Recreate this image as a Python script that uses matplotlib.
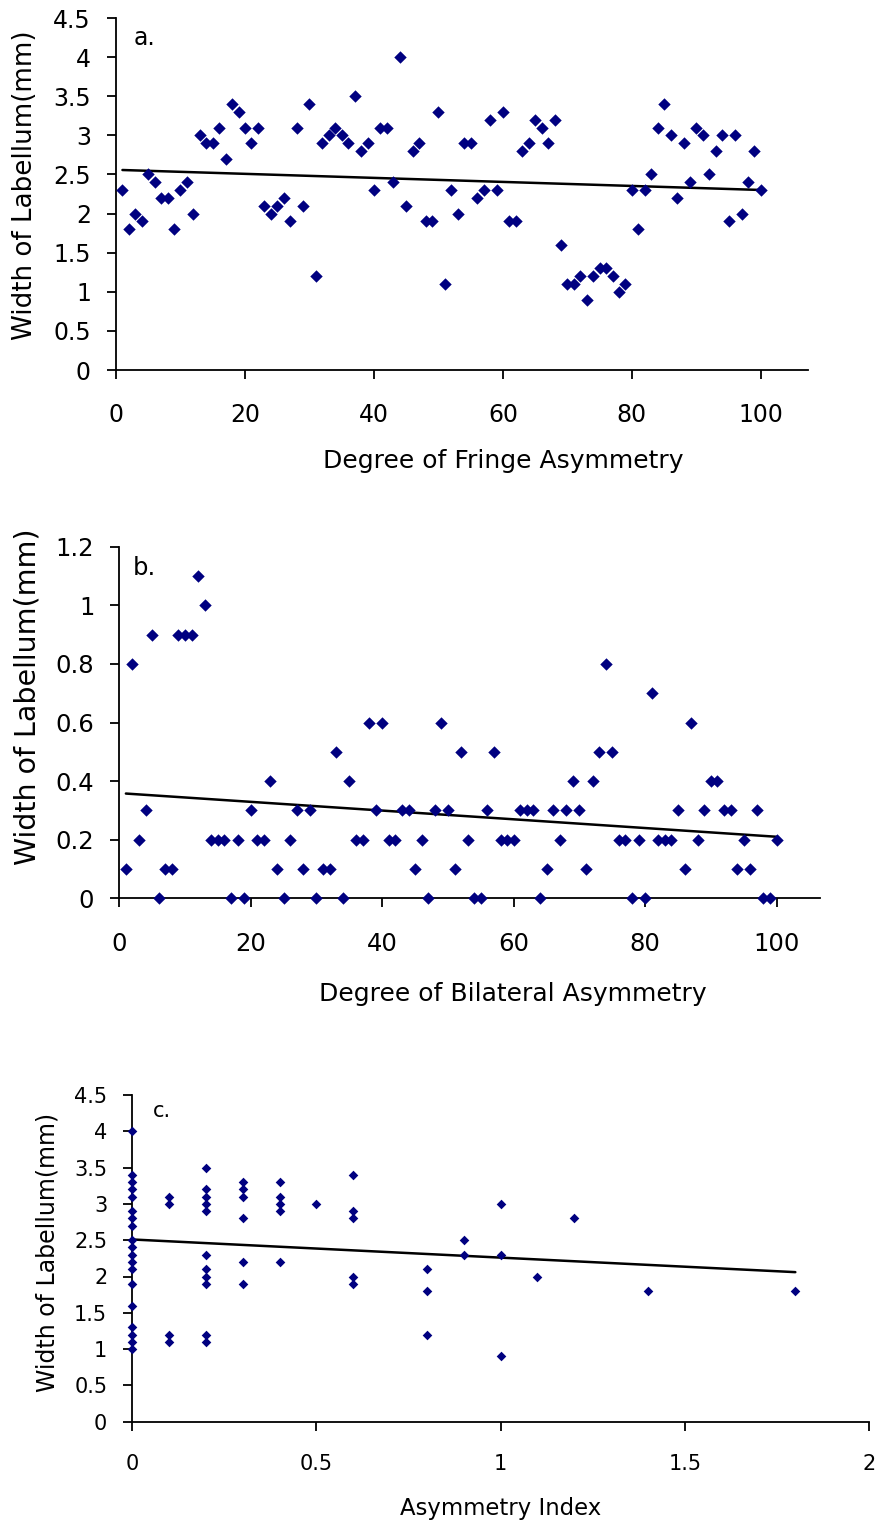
import matplotlib
matplotlib.use('Agg')
import matplotlib.pyplot as plt
import numpy as np

plt.rcParams['font.family'] = ['DejaVu Sans']

# ---------------- data ----------------
fringe_x = list(range(1, 101))
fringe_width = [2.3, 1.8, 2.0, 1.9, 2.5, 2.4, 2.2, 2.2, 1.8, 2.3,
                2.4, 2.0, 3.0, 2.9, 2.9, 3.1, 2.7, 3.4, 3.3, 3.1,
                2.9, 3.1, 2.1, 2.0, 2.1, 2.2, 1.9, 3.1, 2.1, 3.4,
                1.2, 2.9, 3.0, 3.1, 3.0, 2.9, 3.5, 2.8, 2.9, 2.3,
                3.1, 3.1, 2.4, 4.0, 2.1, 2.8, 2.9, 1.9, 1.9, 3.3,
                1.1, 2.3, 2.0, 2.9, 2.9, 2.2, 2.3, 3.2, 2.3, 3.3,
                1.9, 1.9, 2.8, 2.9, 3.2, 3.1, 2.9, 3.2, 1.6, 1.1,
                1.1, 1.2, 0.9, 1.2, 1.3, 1.3, 1.2, 1.0, 1.1, 2.3,
                1.8, 2.3, 2.5, 3.1, 3.4, 3.0, 2.2, 2.9, 2.4, 3.1,
                3.0, 2.5, 2.8, 3.0, 1.9, 3.0, 2.0, 2.4, 2.8, 2.3]

bilateral_x = list(range(1, 101))
bilateral_width = [0.1, 0.8, 0.2, 0.3, 0.9, 0.0, 0.1, 0.1, 0.9, 0.9,
                   0.9, 1.1, 1.0, 0.2, 0.2, 0.2, 0.0, 0.2, 0.0, 0.3,
                   0.2, 0.2, 0.4, 0.1, 0.0, 0.2, 0.3, 0.1, 0.3, 0.0,
                   0.1, 0.1, 0.5, 0.0, 0.4, 0.2, 0.2, 0.6, 0.3, 0.6,
                   0.2, 0.2, 0.3, 0.3, 0.1, 0.2, 0.0, 0.3, 0.6, 0.3,
                   0.1, 0.5, 0.2, 0.0, 0.0, 0.3, 0.5, 0.2, 0.2, 0.2,
                   0.3, 0.3, 0.3, 0.0, 0.1, 0.3, 0.2, 0.3, 0.4, 0.3,
                   0.1, 0.4, 0.5, 0.8, 0.5, 0.2, 0.2, 0.0, 0.2, 0.0,
                   0.7, 0.2, 0.2, 0.2, 0.3, 0.1, 0.6, 0.2, 0.3, 0.4,
                   0.4, 0.3, 0.3, 0.1, 0.2, 0.1, 0.3, 0.0, 0.0, 0.2]

index_x = ([0.0] * 19 + [0.1] * 4 + [0.2] * 11 + [0.3] * 6 + [0.4] * 5
           + [0.5] + [0.6] * 5 + [0.8] * 3 + [0.9] * 2 + [1.0] * 3
           + [1.1, 1.2, 1.4, 1.8])
index_width = ([4.0, 3.4, 3.3, 3.2, 3.1, 2.9, 2.8, 2.7, 2.5, 2.4,
                2.3, 2.2, 2.1, 1.9, 1.6, 1.3, 1.2, 1.1, 1.0]
               + [3.1, 3.0, 1.2, 1.1]
               + [3.5, 3.2, 3.1, 3.0, 2.9, 2.3, 2.1, 2.0, 1.9, 1.2, 1.1]
               + [3.3, 3.2, 3.1, 2.8, 2.2, 1.9]
               + [3.3, 3.1, 3.0, 2.9, 2.2]
               + [3.0]
               + [3.4, 2.9, 2.8, 2.0, 1.9]
               + [2.1, 1.8, 1.2]
               + [2.5, 2.3]
               + [3.0, 2.3, 0.9]
               + [2.0, 2.8, 1.8, 1.8])

# linear trend lines (intercept, slope)
trend_a = (2.560, -0.00258)
trend_b = (0.359, -0.00149)
trend_c = (2.51, -0.25)

ylabel = 'Width of Labellum(mm)'

# ---------------- figure ----------------
W, H = 882, 1522
fig = plt.figure(figsize=(W / 100, H / 100), dpi=100)
NAVY = '#000080'


def make_axes(l, r, t, b):
    return fig.add_axes([l / W, 1 - b / H, (r - l) / W, (b - t) / H])


def style(ax, fs, xpad, ypad):
    for s in ('top', 'right'):
        ax.spines[s].set_visible(False)
    for s in ('left', 'bottom'):
        ax.spines[s].set_linewidth(1.3)
        ax.spines[s].set_color('black')
    ax.tick_params(axis='both', direction='out', length=6.5, width=1.3,
                   labelsize=fs, colors='black')
    ax.tick_params(axis='x', pad=xpad)
    ax.tick_params(axis='y', pad=ypad)


def trend(ax, xs, params):
    x0, x1 = min(xs), max(xs)
    xx = np.array([x0, x1])
    ax.plot(xx, params[0] + params[1] * xx, color='black', lw=1.8,
            solid_capstyle='round', zorder=3)


# Panel a
axa = make_axes(116, 808, 18.1, 370)
axa.scatter(fringe_x, fringe_width, marker='D', s=40, color=NAVY,
            linewidths=0, zorder=4, clip_on=False)
trend(axa, fringe_x, trend_a)
axa.set_xlim(0, 107.3)
axa.set_ylim(0, 4.5)
axa.set_xticks([0, 20, 40, 60, 80, 100])
axa.set_yticks(np.arange(0, 4.51, 0.5))
axa.set_yticklabels(['0', '0.5', '1', '1.5', '2', '2.5', '3', '3.5', '4', '4.5'])
style(axa, 17, 17.5, 11.5)
axa.set_xlabel('Degree of Fringe Asymmetry', fontsize=18)
axa.xaxis.set_label_coords((503 - 116) / 692, (370 - 449) / 351.9)
axa.set_ylabel(ylabel, fontsize=18.8)
axa.yaxis.set_label_coords((38 - 116) / 692, 0.526)
axa.text(2.8, 4.16, 'a.', fontsize=17, va='baseline', ha='left')

# Panel b
axb = make_axes(119.3, 820, 546.7, 898.3)
axb.scatter(bilateral_x, bilateral_width, marker='D', s=40, color=NAVY,
            linewidths=0, zorder=4, clip_on=False)
trend(axb, bilateral_x, trend_b)
axb.set_xlim(0, 106.6)
axb.set_ylim(0, 1.2)
axb.set_xticks([0, 20, 40, 60, 80, 100])
axb.set_yticks([0, 0.2, 0.4, 0.6, 0.8, 1.0, 1.2])
axb.set_yticklabels(['0', '0.2', '0.4', '0.6', '0.8', '1', '1.2'])
style(axb, 17.5, 18, 11.5)
axb.set_xlabel('Degree of Bilateral Asymmetry', fontsize=18)
axb.xaxis.set_label_coords((513 - 119.3) / 700.7, (898.3 - 982) / 351.6)
axb.set_ylabel(ylabel, fontsize=20.5)
axb.yaxis.set_label_coords((42 - 119.3) / 700.7, 0.573)
axb.text(2.1, 1.103, 'b.', fontsize=17.5, va='baseline', ha='left')

# Panel c
axc = make_axes(132.3, 869, 1095, 1421.7)
axc.scatter(index_x, index_width, marker='D', s=24, color=NAVY,
            linewidths=0, zorder=4, clip_on=False)
trend(axc, index_x, trend_c)
axc.set_xlim(0, 2)
axc.set_ylim(0, 4.5)
axc.set_xticks([0, 0.5, 1, 1.5, 2])
axc.set_xticklabels(['0', '0.5', '1', '1.5', '2'])
axc.set_yticks(np.arange(0, 4.51, 0.5))
axc.set_yticklabels(['0', '0.5', '1', '1.5', '2', '2.5', '3', '3.5', '4', '4.5'])
style(axc, 15, 17, 11.5)
axc.set_xlabel('Asymmetry Index', fontsize=16.4)
axc.xaxis.set_label_coords((501 - 132.3) / 736.7, (1421.7 - 1497.5) / 326.7)
axc.set_ylabel(ylabel, fontsize=17)
axc.yaxis.set_label_coords((60 - 132.3) / 736.7, 0.519)
axc.text(0.056, 4.20, 'c.', fontsize=15, va='baseline', ha='left')

fig.savefig('out.png', dpi=100)
